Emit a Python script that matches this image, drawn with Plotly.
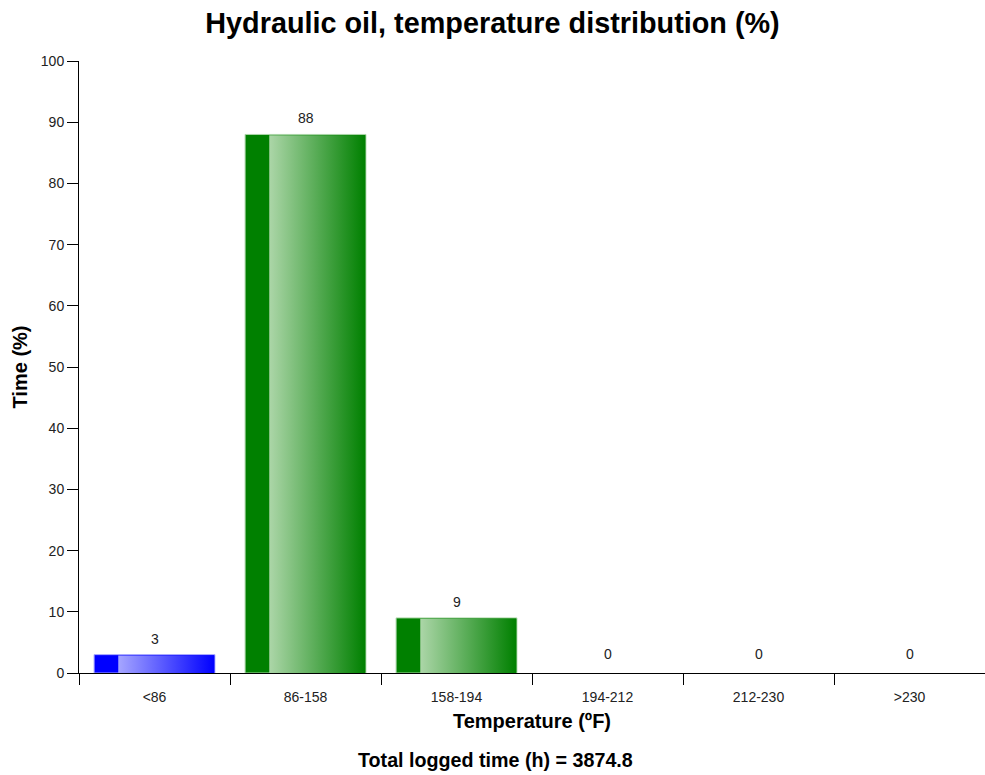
import plotly.graph_objects as go

# Temperature bands (°F) and share of logged time in each band (%)
categories = ["<86", "86-158", "158-194", "194-212", "212-230", ">230"]
values = [3, 88, 9, 0, 0, 0]
dark_colors = ["#0000ff", "#008000", "#008000", "#008000", "#008000", "#008000"]
light_colors = ["#a6a6ff", "#acd6a8", "#acd6a8", "#acd6a8", "#acd6a8", "#acd6a8"]
total_hours = 3874.8

FONT = "Liberation Sans, Arial, sans-serif"
BAR_WIDTH = 0.8
SOLID_PART = 0.2  # left share of each bar drawn in the flat dark colour
PAGE_W, PAGE_H = 985, 775
M_L, M_R, M_T, M_B = 79, 0, 61, 102

fig = go.Figure()

# Base bars in the dark colour
fig.add_trace(go.Bar(
    x=categories,
    y=values,
    width=BAR_WIDTH,
    marker=dict(
        color=dark_colors,
        line=dict(color=light_colors, width=[1 if v > 0 else 0 for v in values]),
    ),
    hoverinfo="x+y",
    showlegend=False,
))

# Glossy gradient overlay on the right part of each bar (numeric overlay axis)
for i, (v, dc, lc) in enumerate(zip(values, dark_colors, light_colors)):
    if v <= 0:
        continue
    x0 = i - BAR_WIDTH / 2 + BAR_WIDTH * SOLID_PART
    x1 = i + BAR_WIDTH / 2 - 0.004
    y1 = v - 0.15
    fig.add_trace(go.Scatter(
        x=[x0, x1, x1, x0, x0],
        y=[0, 0, y1, y1, 0],
        xaxis="x2",
        mode="lines",
        line=dict(width=0),
        fill="toself",
        fillgradient=dict(
            type="horizontal",
            colorscale=[[0, lc], [1, dc]],
        ),
        hoverinfo="skip",
        showlegend=False,
    ))

# Value labels above the bars
for cat, v in zip(categories, values):
    fig.add_annotation(
        x=cat, y=v, xref="x", yref="y",
        text=str(v), showarrow=False,
        yanchor="bottom", yshift=6 if v > 0 else 9,
        font=dict(family=FONT, size=14, color="#222"),
    )

# Footer with the total logged time, centred on the page
plot_w = PAGE_W - M_L - M_R
plot_h = PAGE_H - M_T - M_B
fig.add_annotation(
    x=(PAGE_W / 2 + 3 - M_L) / plot_w, y=-(760 - (PAGE_H - M_B)) / plot_h,
    xref="paper", yref="paper",
    text=f"<b>Total logged time (h) = {total_hours}</b>",
    showarrow=False, yanchor="middle", xanchor="center",
    font=dict(family=FONT, size=19.7, color="#000"),
)

fig.update_layout(
    width=PAGE_W,
    height=PAGE_H,
    margin=dict(l=M_L, r=M_R, t=M_T, b=M_B),
    paper_bgcolor="white",
    plot_bgcolor="white",
    bargap=0.2,
    title=dict(
        text="<b>Hydraulic oil, temperature distribution (%)</b>",
        x=0.5, xanchor="center",
        y=1 - 23 / PAGE_H, yanchor="middle", yref="container",
        font=dict(family=FONT, size=28.8, color="#000"),
    ),
    xaxis=dict(
        type="category",
        range=[-0.5, 5.5],
        tickson="boundaries",
        ticks="outside", ticklen=11, tickcolor="#000", tickwidth=1,
        ticklabelstandoff=11,
        showline=True, linecolor="#000", linewidth=1,
        showgrid=False, zeroline=False,
        tickfont=dict(family=FONT, size=14, color="#222"),
        title=dict(text="<b>Temperature (ºF)</b>", standoff=10,
                   font=dict(family=FONT, size=20, color="#000")),
    ),
    xaxis2=dict(
        overlaying="x",
        range=[-0.5, 5.5],
        visible=False,
        showgrid=False, zeroline=False,
    ),
    yaxis=dict(
        range=[0, 100],
        dtick=10,
        ticks="outside", ticklen=11, tickcolor="#000", tickwidth=1,
        showline=True, linecolor="#000", linewidth=1,
        showgrid=False, zeroline=False,
        tickfont=dict(family=FONT, size=14, color="#222"),
        title=dict(text="<b>Time (%)</b>", standoff=7,
                   font=dict(family=FONT, size=20, color="#000")),
    ),
)

fig.write_html("out.html")
